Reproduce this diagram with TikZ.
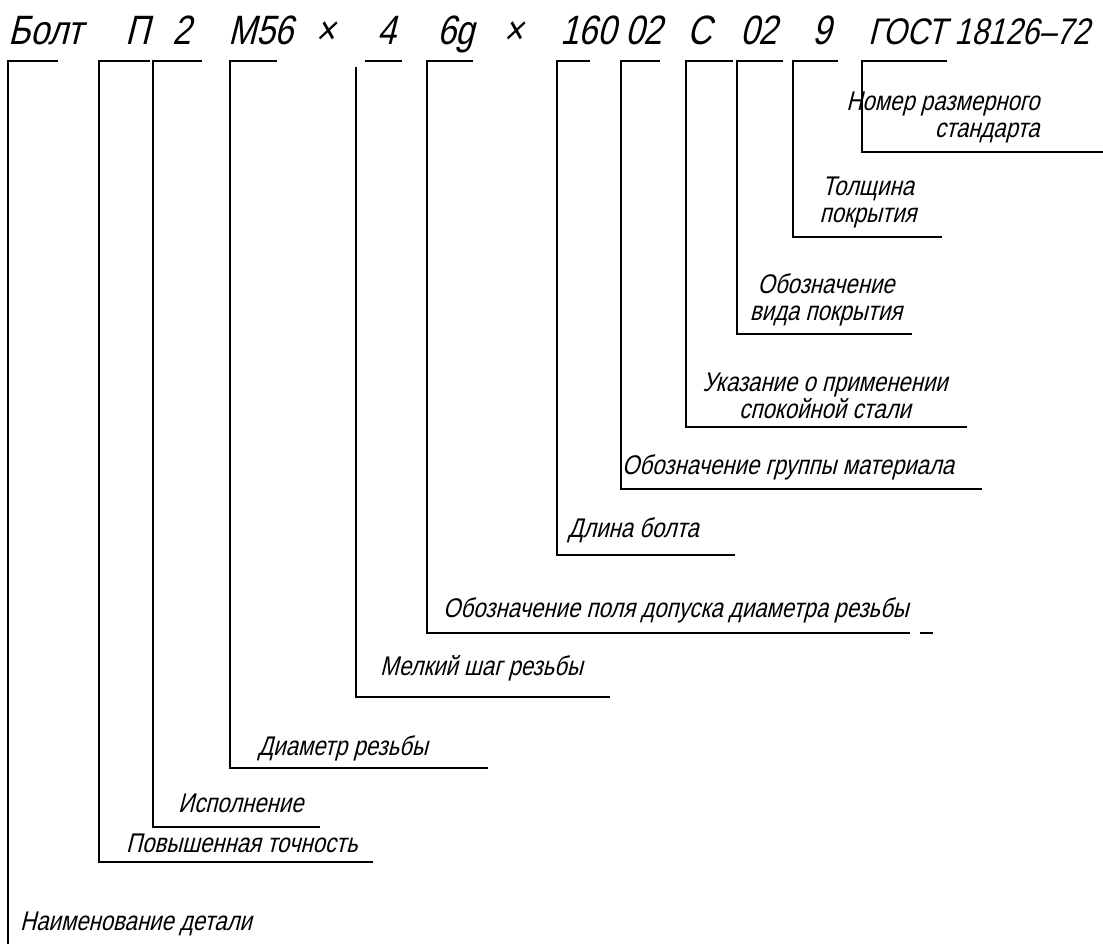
\documentclass[tikz,border=0pt]{standalone}
\usepackage{fontspec}
\setmainfont{Liberation Sans}[FakeSlant=0.25,FakeStretch=0.82]
\usetikzlibrary{positioning}

\newcommand{\hdrfont}{\fontsize{41}{41}\selectfont}
\newcommand{\lblfont}{\fontsize{27}{27}\selectfont}

\begin{document}
\begin{tikzpicture}[x=1pt, y=-1pt,
  hdr/.style={anchor=base west, inner sep=0pt, font=\hdrfont},
  lbl/.style={anchor=base west, inner sep=0pt, font=\lblfont},
  lbl2/.style={inner sep=0pt, font=\lblfont, align=center},
  leader/.style={line width=1.1pt, line join=miter}]
\useasboundingbox (0,0) rectangle (1103,944);

% designation line
\node[hdr] (bolt) at (8,45) {Болт};
\node[hdr] (ispP) at (125,45) {П};
\node[hdr] (isp2) at (172,45) {2};
\node[hdr] (diam) at (228,45) {М56};
\node[hdr] (x1) at (315,45) {×};
\node[hdr] (pitch) at (377,45) {4};
\node[hdr] (tol) at (437,45) {6g};
\node[hdr] (x2) at (503,45) {×};
\node[hdr] (len) at (560,45) {160};
\node[hdr] (grp) at (625,45) {02};
\node[hdr] (steel) at (687,45) {С};
\node[hdr] (cover) at (740,45) {02};
\node[hdr] (thick) at (812,45) {9};
\node[hdr, font=\fontsize{37}{37}\selectfont] (gost) at (868,45) {ГОСТ 18126–72};

% explanations
\node[lbl2, align=right] (nNomer) at (943,118) {Номер размерного\\стандарта};
\node[lbl2] (nThick) at (868,203) {Толщина\\покрытия};
\node[lbl2] (nCover) at (826,300) {Обозначение\\вида покрытия};
\node[lbl2] (nSteel) at (825,396) {Указание о применении\\спокойной стали};
\node[lbl] (nGrp) at (622,474) {Обозначение группы материала};
\node[lbl] (nLen) at (568,537) {Длина болта};
\node[lbl] (nTol) at (443,617) {Обозначение поля допуска диаметра резьбы};
\node[lbl] (nPitch) at (380,675) {Мелкий шаг резьбы};
\node[lbl] (nDiam) at (258,755) {Диаметр резьбы};
\node[lbl] (nIsp) at (178,812) {Исполнение};
\node[lbl] (nPrec) at (126,852) {Повышенная точность};
\node[lbl] (nName) at (20,930) {Наименование детали};

% leaders
\draw[leader] (58,61) -| (8,944);
\draw[leader] (150,61) -| (99,862) -- (373,862);
\draw[leader] (202,61) -| (153,827) -- (320,827);
\draw[leader] (277,61) -| (230,768) -- (488,768);
\draw[leader] (365,61) -- (402,61);
\draw[leader] (356,67) -- (356,697) -- (610,697);
\draw[leader] (473,61) -| (427,633) -- (910,633);
\draw[leader] (920,633) -- (933,633);
\draw[leader] (590,61) -| (557,555) -- (735,555);
\draw[leader] (660,61) -| (621,489) -- (982,489);
\draw[leader] (733,61) -| (686,427) -- (967,427);
\draw[leader] (783,61) -| (737,334) -- (912,334);
\draw[leader] (838,61) -| (793,237) -- (942,237);
\draw[leader] (947,61) -| (862,152) -- (1103,152);
\end{tikzpicture}
\end{document}
